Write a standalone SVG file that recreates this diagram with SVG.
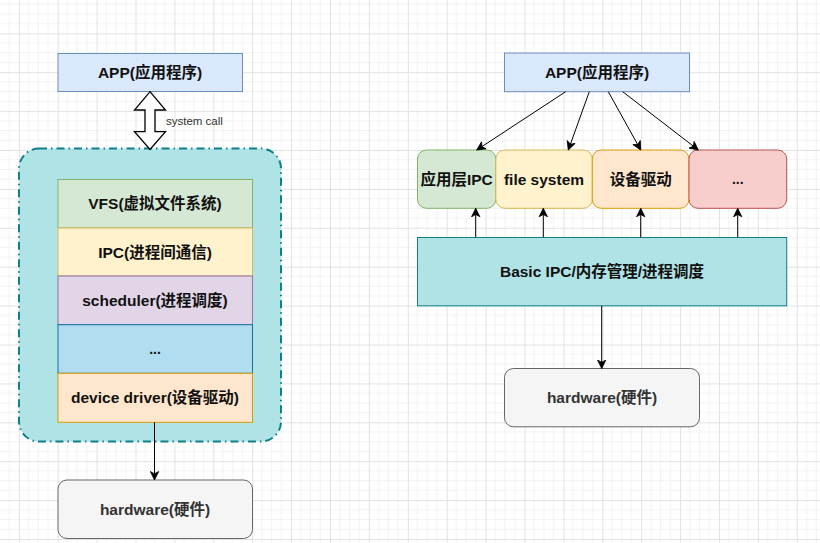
<svg xmlns="http://www.w3.org/2000/svg" width="820" height="543" viewBox="0 0 820 543">
<defs>
<pattern id="grid" patternUnits="userSpaceOnUse" x="18.8" y="33.3" width="38.9" height="38.9">
<path d="M9.725 0V38.9M19.45 0V38.9M29.175 0V38.9M0 9.725H38.9M0 19.45H38.9M0 29.175H38.9" stroke="#f2f2f2" stroke-width="1" fill="none"/>
<path d="M0.5 0V38.9M0 0.5H38.9" stroke="#e2e2e2" stroke-width="1" fill="none"/>
</pattern>
<marker id="arr" markerUnits="userSpaceOnUse" markerWidth="10" markerHeight="10" viewBox="0 0 10 10" refX="9" refY="5" orient="auto">
<path d="M0.5,0.8 L9,5 L0.5,9.2 L2.8,5 Z" fill="#000" stroke="#000" stroke-width="0.8"/>
</marker>
</defs>
<style>
.t{font-family:"Liberation Sans","Noto Sans CJK SC",Arial,sans-serif;font-size:15.5px;font-weight:bold;fill:#111;text-anchor:middle;dominant-baseline:central}
.s{font-family:"Liberation Sans","Noto Sans CJK SC",Arial,sans-serif;font-size:11.5px;fill:#333}
.c{stroke:#000;stroke-width:1;fill:none}
</style>
<rect width="820" height="543" fill="#fff"/>
<rect width="820" height="543" fill="url(#grid)"/>

<g id="left-app">
<rect x="58" y="53.5" width="184.5" height="38" fill="#dae8fc" stroke="#6c8ebf"/>
<text class="t" x="150" y="72.5">APP(应用程序)</text>
</g>

<g id="kernel-container">
<rect x="19" y="148.5" width="262" height="293" rx="20" fill="#b0e3e6" stroke="#0e8088" stroke-width="2" stroke-dasharray="8 4 1.5 4"/>
</g>

<g id="vfs">
<rect x="58" y="179.5" width="194.5" height="48.5" fill="#d5e8d4" stroke="#82b366"/>
<text class="t" x="155" y="203.7">VFS(虚拟文件系统)</text>
</g>
<g id="ipc">
<rect x="58" y="228" width="194.5" height="48" fill="#fff2cc" stroke="#d6b656"/>
<text class="t" x="155" y="252">IPC(进程间通信)</text>
</g>
<g id="scheduler">
<rect x="58" y="276" width="194.5" height="48.7" fill="#e1d5e7" stroke="#9673a6"/>
<text class="t" x="155" y="300.3">scheduler(进程调度)</text>
</g>
<g id="dots-left">
<rect x="58" y="324.7" width="194.5" height="48.6" fill="#b1ddf0" stroke="#10739e"/>
<text class="t" x="155" y="349" style="font-size:14px">...</text>
</g>
<g id="device-driver">
<rect x="58" y="373.3" width="194.5" height="49" fill="#ffe6cc" stroke="#d79b00"/>
<text class="t" x="155" y="397.8">device driver(设备驱动)</text>
</g>

<g id="left-hardware">
<rect x="58" y="480" width="194.5" height="58.5" rx="9" fill="#f5f5f5" stroke="#666666"/>
<text class="t" x="155" y="509.3" style="fill:#333">hardware(硬件)</text>
</g>

<g id="right-app">
<rect x="504.5" y="53" width="185" height="38.7" fill="#dae8fc" stroke="#6c8ebf"/>
<text class="t" x="597" y="72.3">APP(应用程序)</text>
</g>

<g id="app-ipc">
<rect x="417.5" y="150" width="78.3" height="58.3" rx="9" fill="#d5e8d4" stroke="#82b366"/>
<text class="t" x="456.6" y="179.2">应用层IPC</text>
</g>
<g id="file-system">
<rect x="495.8" y="150" width="96.5" height="58.3" rx="9" fill="#fff2cc" stroke="#d6b656"/>
<text class="t" x="544" y="179.2">file system</text>
</g>
<g id="device-driver-right">
<rect x="592.3" y="150" width="96.7" height="58.3" rx="9" fill="#ffe6cc" stroke="#d79b00"/>
<text class="t" x="640.7" y="179.2">设备驱动</text>
</g>
<g id="dots-right">
<rect x="689" y="150" width="97.7" height="58.3" rx="9" fill="#f8cecc" stroke="#b85450"/>
<text class="t" x="737.8" y="179.2" style="font-size:14px">...</text>
</g>

<g id="basic">
<rect x="417.5" y="237.5" width="369.2" height="68.3" fill="#b0e3e6" stroke="#0e8088"/>
<text class="t" x="602" y="271.6">Basic IPC/内存管理/进程调度</text>
</g>

<g id="right-hardware">
<rect x="504.5" y="368.5" width="195" height="58.3" rx="9" fill="#f5f5f5" stroke="#666666"/>
<text class="t" x="602" y="397.6" style="fill:#333">hardware(硬件)</text>
</g>

<g id="connectors">
<path d="M150 91.7 L165.5 110 L155 110 L155 131.7 L165.5 131.7 L150 149.5 L134.5 131.7 L145 131.7 L145 110 L134.5 110 Z" fill="#fff" stroke="#000" stroke-width="1.3" stroke-linejoin="miter"/>
<text class="s" x="166" y="125">system call</text>
<line class="c" x1="154.5" y1="422.3" x2="154.5" y2="480" marker-end="url(#arr)"/>
<line class="c" x1="565.7" y1="91.7" x2="476.7" y2="150" marker-end="url(#arr)"/>
<line class="c" x1="589.3" y1="91.7" x2="568.3" y2="150" marker-end="url(#arr)"/>
<line class="c" x1="608.3" y1="91.7" x2="640.7" y2="150" marker-end="url(#arr)"/>
<line class="c" x1="622.7" y1="91.7" x2="698.3" y2="150" marker-end="url(#arr)"/>
<line class="c" x1="475.7" y1="237.5" x2="475.7" y2="208.3" marker-end="url(#arr)"/>
<line class="c" x1="543.3" y1="237.5" x2="543.3" y2="208.3" marker-end="url(#arr)"/>
<line class="c" x1="640.7" y1="237.5" x2="640.7" y2="208.3" marker-end="url(#arr)"/>
<line class="c" x1="737.7" y1="237.5" x2="737.7" y2="208.3" marker-end="url(#arr)"/>
<line class="c" x1="601.7" y1="305.8" x2="601.7" y2="368.5" marker-end="url(#arr)"/>
</g>
</svg>
